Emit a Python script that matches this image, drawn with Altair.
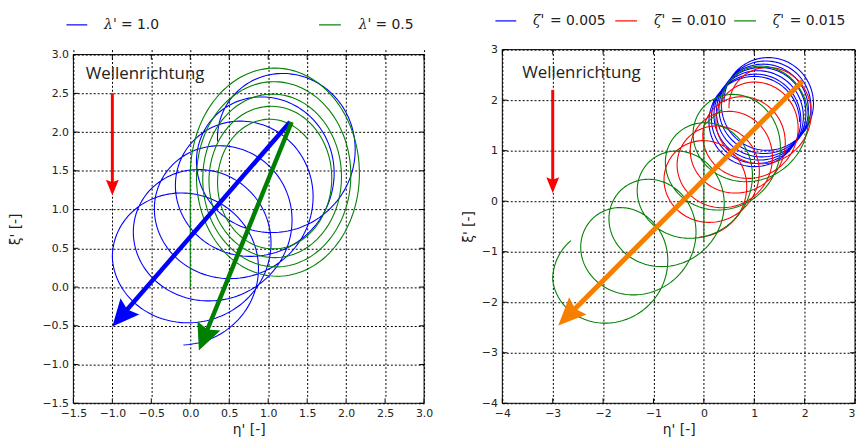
import altair as alt
import numpy as np
import pandas as pd

# ------------------------------------------------------------------ data
# left panel (lambda')
left_domain = [-1.5, 3.0]
left_ticks = [-1.5, -1.0, -0.5, 0.0, 0.5, 1.0, 1.5, 2.0, 2.5, 3.0]

# lambda' = 1.0 : loop centre / radii, one knot per turn
lam10_cx = [1.30, 1.03, 0.76, 0.49, 0.22, -0.05, -0.10]
lam10_cy = [1.88, 1.58, 1.27, 0.97, 0.67, 0.38, 0.08]
lam10_rx = [0.95, 0.95, 0.95, 0.95, 0.95, 0.95, 0.95]
lam10_ry = [0.95, 0.95, 0.95, 0.93, 0.92, 0.91, 0.90]
lam10_turns = 5.75

# lambda' = 0.5
lam05_start = [(0.0, 0.0)]
lam05_cx = [1.11, 1.10, 1.08, 1.06, 1.05, 1.04]
lam05_cy = [1.46, 1.43, 1.41, 1.39, 1.37, 1.30]
lam05_rx = [1.11, 1.02, 0.92, 0.82, 0.70, 0.58]
lam05_ry = [1.41, 1.26, 1.12, 0.98, 0.85, 0.70]
lam05_turns = 4.375

# right panel (zeta')
right_domain = [-4, 3]
right_ticks = [-4, -3, -2, -1, 0, 1, 2, 3]

z005_cx = [1.30, 1.25, 1.20, 1.15, 1.10, 1.05, 1.00]
z005_cy = [1.96, 1.89, 1.83, 1.76, 1.70, 1.63, 1.57]
z005_r = [0.90, 0.90, 0.90, 0.90, 0.90, 0.90, 0.90]
z005_turns = 6.5

z010_cx = [1.38, 1.12, 0.86, 0.61, 0.35, 0.09, -0.15]
z010_cy = [1.84, 1.55, 1.26, 0.97, 0.68, 0.39, 0.10]
z010_r = [0.88, 0.88, 0.88, 0.88, 0.88, 0.88, 0.88]
z010_turns = 5.75

z015_start = [(0.0, -0.8), (0.0, 1.5)]
z015_cx = [1.35, 0.79, 0.24, -0.32, -0.88, -1.44, -2.00]
z015_cy = [1.81, 1.25, 0.69, 0.13, -0.43, -0.99, -1.55]
z015_r = [1.0, 1.0, 1.0, 1.0, 1.0, 1.0, 1.0]
z015_turns = 6.14

# arrows: (tail, tip)
left_wave_arrow = [(-1.0, 2.5), (-1.0, 1.18)]
left_blue_arrow = [(1.28, 2.13), (-1.0, -0.51)]
left_green_arrow = [(1.30, 2.13), (0.11, -0.82)]
right_wave_arrow = [(-3.0, 2.2), (-3.0, 0.16)]
right_orange_arrow = [(1.96, 2.38), (-2.89, -2.46)]

left_text_pos = (-0.58, 2.75)
right_text_pos = (-2.43, 2.53)
wave_label = "Wellenrichtung"

left_labels = ["λ'", "λ'"]
left_values = ["= 1.0", "= 0.5"]
right_labels = ["ζ'", "ζ'", "ζ'"]
right_values = ["= 0.005", "= 0.010", "= 0.015"]

# ------------------------------------------------------------------ styles
BLUE, GREEN, RED, ORANGE = "#0000ff", "#008000", "#ff0000", "#f77f00"
W_L, H_L, TOP_L = 354, 357, 5      # left plot drawn from y=5 to y=357
W_R, H_R = 356, 357
FONT = "DejaVu Sans"


def trajectory(cx, cy, rx, ry, turns, start=None, per_turn=160):
    t = np.linspace(0.0, turns, int(round(turns * per_turn)) + 1)
    k = np.arange(len(cx))
    ccx, ccy = np.interp(t, k, cx), np.interp(t, k, cy)
    rrx, rry = np.interp(t, k, rx), np.interp(t, k, ry)
    a = np.pi - 2 * np.pi * t
    x = ccx + rrx * np.cos(a)
    y = ccy + rry * np.sin(a)
    if start is not None:
        x = np.concatenate([[p[0] for p in start], x])
        y = np.concatenate([[p[1] for p in start], y])
    return pd.DataFrame({"x": x, "y": y, "i": np.arange(len(x))})


def make_panel(domain, ticks, fmt, W, H, top, xtitle, ytitle, title_pad,
               last_right=False):
    ppx = W / (domain[1] - domain[0])
    ppy = (H - top) / (domain[1] - domain[0])
    xs = alt.Scale(domain=domain, nice=False, zero=False)
    ys = alt.Scale(domain=domain, nice=False, zero=False, range=[H, top])
    label_align = alt.expr(f"datum.value == {domain[1]} ? 'right' : 'center'") if last_right else "center"
    xaxis = alt.Axis(values=ticks, format=fmt, title=xtitle, grid=True,
                     labelAlign=label_align, titlePadding=4, labelPadding=4)
    yaxis = alt.Axis(values=ticks, format=fmt, title=ytitle, grid=True,
                     titlePadding=title_pad, labelPadding=5)

    def X(f):
        return alt.X(f, type="quantitative", scale=xs, axis=xaxis, title=xtitle)

    def Y(f):
        return alt.Y(f, type="quantitative", scale=ys, axis=yaxis, title=ytitle)

    def traj(df, color):
        return alt.Chart(df).mark_line(color=color, strokeWidth=1.1, clip=True).encode(
            x=X("x"), y=Y("y"), order="i:Q")

    def arrow(tail, tip, color, width, head_len, head_w):
        dxp = (tip[0] - tail[0]) * ppx
        dyp = -(tip[1] - tail[1]) * ppy
        L = np.hypot(dxp, dyp)
        ux, uy = dxp / L, dyp / L
        ang = float((np.degrees(np.arctan2(ux, -uy)) + 360) % 360)
        back = head_len * 0.6
        sx = tip[0] - ux * back / ppx
        sy = tip[1] + uy * back / ppy
        shaft = pd.DataFrame({"x": [tail[0]], "y": [tail[1]], "x2": [sx], "y2": [sy]})
        head = pd.DataFrame({"x": [tip[0]], "y": [tip[1]]})
        hw = head_w / 2 / head_len
        path = f"M0,0 L{hw:.3f},1 L0,0.85 L{-hw:.3f},1 Z"
        s = alt.Chart(shaft).mark_rule(color=color, strokeWidth=width, strokeCap="butt").encode(
            x=X("x"), y=Y("y"), x2="x2:Q", y2="y2:Q")
        h = alt.Chart(head).mark_point(shape=path, filled=True, fill=color, color=color,
                                       size=(2 * head_len) ** 2, angle=ang, opacity=1,
                                       strokeWidth=0).encode(x=X("x"), y=Y("y"))
        return [s, h]

    def frame():
        fr = pd.DataFrame({"x": [domain[0], domain[1], domain[0], domain[0]],
                           "x2": [domain[1], domain[1], domain[1], domain[0]],
                           "y": [domain[1], domain[0], domain[0], domain[0]],
                           "y2": [domain[1], domain[1], domain[0], domain[1]]})
        tk = pd.DataFrame({"v": ticks})
        lay = [alt.Chart(fr).mark_rule(color="black", strokeWidth=1).encode(
            x=X("x"), y=Y("y"), x2="x2:Q", y2="y2:Q")]
        lay.append(alt.Chart(tk).mark_rule(color="black").encode(
            x=X("v"), y=alt.value(H), y2=alt.value(H - 5)))
        lay.append(alt.Chart(tk).mark_rule(color="black").encode(
            x=X("v"), y=alt.value(top), y2=alt.value(top + 5)))
        lay.append(alt.Chart(tk).mark_rule(color="black").encode(
            y=Y("v"), x=alt.value(0), x2=alt.value(5)))
        lay.append(alt.Chart(tk).mark_rule(color="black").encode(
            y=Y("v"), x=alt.value(W), x2=alt.value(W - 5)))
        return lay

    def text(pos, label):
        df = pd.DataFrame({"x": [pos[0]], "y": [pos[1]], "t": [label]})
        return alt.Chart(df).mark_text(font="Open Sans", fontSize=17, color="#222",
                                       align="center", baseline="middle").encode(
            x=X("x"), y=Y("y"), text="t:N")

    def legend(items, y):
        one = pd.DataFrame({"a": [0]})
        lay = []
        for (x0, x1, tx, greek, val, color) in items:
            lay.append(alt.Chart(one).mark_rule(color=color, strokeWidth=1.2).encode(
                x=alt.value(x0), x2=alt.value(x1), y=alt.value(y)))
            lay.append(alt.Chart(one).mark_text(font="DejaVu Serif", fontStyle="italic",
                                                fontSize=14, align="left", baseline="middle",
                                                color="#222").encode(
                x=alt.value(tx), y=alt.value(y), text=alt.value(greek)))
            lay.append(alt.Chart(one).mark_text(font=FONT, fontSize=14, align="left",
                                                baseline="middle", color="#222").encode(
                x=alt.value(tx + 17), y=alt.value(y), text=alt.value(val)))
        return lay

    return traj, arrow, frame, text, legend


# ------------------------------------------------------------------ left panel
traj, arrow, frame, text, legend = make_panel(left_domain, left_ticks, ".1f", W_L, H_L, TOP_L,
                                              "η' [-]", "ξ' [-]", 20)
left_layers = [
    traj(trajectory(lam10_cx, lam10_cy, lam10_rx, lam10_ry, lam10_turns), BLUE),
    traj(trajectory(lam05_cx, lam05_cy, lam05_rx, lam05_ry, lam05_turns, start=lam05_start), GREEN),
]
left_layers += arrow(*left_wave_arrow, RED, 3, 16, 13)
left_layers += arrow(*left_blue_arrow, BLUE, 4.5, 27, 25)
left_layers += arrow(*left_green_arrow, GREEN, 4.5, 27, 25)
left_layers.append(text(left_text_pos, wave_label))
left_layers += frame()
left_layers += legend([(-7, 14, 31, left_labels[0], left_values[0], BLUE),
                       (248, 270, 288, left_labels[1], left_values[1], GREEN)], TOP_L - 30)
left = alt.layer(*left_layers).properties(width=W_L, height=H_L)

# ------------------------------------------------------------------ right panel
traj, arrow, frame, text, legend = make_panel(right_domain, right_ticks, "d", W_R, H_R, 0,
                                              "η' [-]", "ξ' [-]", 6, last_right=True)
right_layers = [
    traj(trajectory(z005_cx, z005_cy, z005_r, z005_r, z005_turns), BLUE),
    traj(trajectory(z010_cx, z010_cy, z010_r, z010_r, z010_turns), RED),
    traj(trajectory(z015_cx, z015_cy, z015_r, z015_r, z015_turns, start=z015_start), GREEN),
]
right_layers += arrow(*right_wave_arrow, RED, 3, 16, 13)
right_layers += arrow(*right_orange_arrow, ORANGE, 5, 28, 25)
right_layers.append(text(right_text_pos, wave_label))
right_layers += frame()
right_layers += legend([(-7, 14, 31, right_labels[0], right_values[0], BLUE),
                        (114, 136, 153, right_labels[1], right_values[1], RED),
                        (234, 256, 273, right_labels[2], right_values[2], GREEN)], -29)
right = alt.layer(*right_layers).properties(width=W_R, height=H_R)

chart = alt.hconcat(left, right, spacing=28).properties(
    padding={"left": 0, "top": 4, "right": 0, "bottom": 0}
).configure_view(strokeWidth=0).configure_axis(
    domain=False, ticks=False, gridColor="black", gridDash=[2, 2], gridOpacity=1,
    gridWidth=1, labelFont=FONT, labelFontSize=11, labelColor="#222",
    titleFont=FONT, titleFontSize=14, titleFontWeight="normal", titleColor="#222"
)

chart.save("out.html", embed_options={"renderer": "svg", "actions": False})
